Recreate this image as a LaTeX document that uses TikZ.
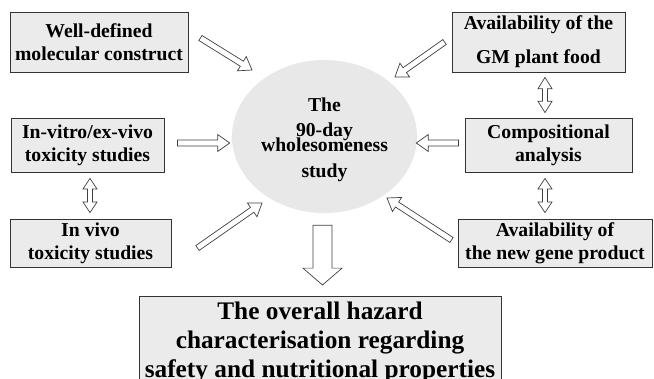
\documentclass[tikz,border=0pt]{standalone}
\usepackage{fontspec}
\setmainfont{Liberation Serif}
\usetikzlibrary{calc,shapes.geometric}
\tikzstyle{box} = [draw=black!80, fill=black!8, line width=0.6pt, inner sep=0pt, align=center, font={\bfseries\fontsize{14}{16.5}\selectfont}]
\tikzstyle{study} = [ellipse, fill=black!9, inner sep=0pt, minimum width=4.625cm, minimum height=3.825cm, align=center, font={\bfseries\fontsize{14}{17}\selectfont}]
\tikzstyle{result} = [box, anchor=north, minimum width=9.05cm, inner ysep=3.8pt, font={\bfseries\fontsize{18}{20.6}\selectfont}]
\tikzstyle{hollow} = [draw=black!75, fill=white, line width=0.5pt, line join=miter]

\newcommand{\blockarrow}[5]{
  \path (#1) coordinate (ta) (#2) coordinate (tb);
  \path ($(tb)!#5!(ta)$) coordinate (tm);
  \draw[hollow] ($(ta)!#3!90:(tb)$) -- ($(tm)!#3!-90:(ta)$) -- ($(tm)!#4!-90:(ta)$) -- (tb)
    -- ($(tm)!#4!90:(ta)$) -- ($(tm)!#3!90:(ta)$) -- ($(ta)!#3!-90:(tb)$) -- cycle;
}
\newcommand{\blockdouble}[5]{
  \path (#1) coordinate (ta) (#2) coordinate (tb);
  \path ($(tb)!#5!(ta)$) coordinate (tm) ($(ta)!#5!(tb)$) coordinate (tn);
  \draw[hollow] (ta) -- ($(tn)!#4!90:(tb)$) -- ($(tn)!#3!90:(tb)$) -- ($(tm)!#3!-90:(ta)$) -- ($(tm)!#4!-90:(ta)$) -- (tb)
    -- ($(tm)!#4!90:(ta)$) -- ($(tm)!#3!90:(ta)$) -- ($(tn)!#3!-90:(tb)$) -- ($(tn)!#4!-90:(tb)$) -- cycle;
}

\begin{document}
\begin{tikzpicture}[x=0.025cm,y=-0.025cm]
  \useasboundingbox (0,0) rectangle (654,378);
  \node[box, minimum width=4.45cm, minimum height=1.5cm] (wd) at (99,42) {Well-defined\\molecular construct};
  \node[box, minimum width=4.325cm, minimum height=1.5cm] (gm) at (538.5,42) {Availability of the\\[7.5pt]GM plant food};
  \node[box, minimum width=3.825cm, minimum height=1.35cm] (vitro) at (87.5,145) {In-vitro/ex-vivo\\toxicity studies};
  \node[box, minimum width=4.175cm, minimum height=1.35cm] (comp) at (548.5,145) {Compositional\\analysis};
  \node[box, minimum width=4.025cm, minimum height=1.2cm] (vivo) at (90.5,243) {In vivo\\toxicity studies};
  \node[box, minimum width=4.85cm, minimum height=1.2cm] (gene) at (555,243) {Availability of\\the new gene product};
  \node[study] (ell) at (324.5,136.5) {\rule{0pt}{14.6pt}The\\[0.8pt]90-day\\[-6.3pt]wholesomeness\\[1.5pt]study};
  \node[result] (hazard) at (320,296) {The overall hazard\\characterisation regarding\\safety and nutritional properties};
  \blockarrow{$(wd.east)+(12,-4)$}{$(ell)+(-72.5,-66.5)$}{2.1pt}{6pt}{8.5pt}
  \blockarrow{$(gm.west)+(-7,0)$}{$(ell)+(70.5,-59.5)$}{2.1pt}{6pt}{8.5pt}
  \blockarrow{$(vitro.east)+(13,-2)$}{$(ell.west)+(-2,6.5)$}{2.1pt}{6pt}{8.5pt}
  \blockarrow{$(comp.west)+(-6,-2)$}{$(ell.east)+(-1,6.5)$}{2.1pt}{6pt}{8.5pt}
  \blockarrow{$(vivo.east)+(26,5)$}{$(ell)+(-62.5,66.5)$}{2.1pt}{6pt}{8.5pt}
  \blockarrow{$(gene.west)+(-6,-3)$}{$(ell)+(62.5,61.5)$}{2.1pt}{6pt}{8.5pt}
  \blockarrow{$(ell.south)+(-2,12)$}{$(hazard.north)+(2.5,-11)$}{6.8pt}{13.9pt}{12pt}
  \blockdouble{$(vitro.south)+(2.5,6)$}{$(vivo.north)+(-0.5,-6)$}{1.8pt}{5pt}{7.5pt}
  \blockdouble{$(gm.south)+(6.5,5)$}{$(comp.north)+(-3.5,-5)$}{1.8pt}{5pt}{8pt}
  \blockdouble{$(comp.south)+(-3.5,6)$}{$(gene.north)+(-10,-6)$}{1.8pt}{5pt}{7.5pt}
\end{tikzpicture}
\end{document}
